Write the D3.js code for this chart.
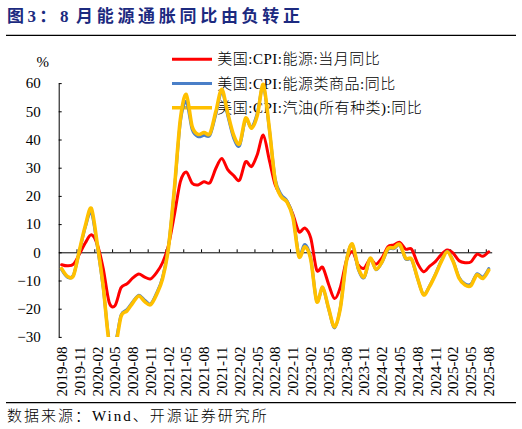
<!DOCTYPE html>
<html>
<head>
<meta charset="utf-8">
<script src="https://cdn.jsdelivr.net/npm/d3@7"></script>
<style>
  body { margin: 0; background: #fff; }
  svg text { font-family: "Liberation Serif", "Noto Sans CJK SC", serif; fill: #000; }
</style>
</head>
<body>
<div id="chart"></div>
<script>
// months, 2019-08 .. 2025-08
var months = [
  "2019-08","2019-09","2019-10","2019-11","2019-12",
  "2020-01","2020-02","2020-03","2020-04","2020-05","2020-06","2020-07","2020-08","2020-09","2020-10","2020-11","2020-12",
  "2021-01","2021-02","2021-03","2021-04","2021-05","2021-06","2021-07","2021-08","2021-09","2021-10","2021-11","2021-12",
  "2022-01","2022-02","2022-03","2022-04","2022-05","2022-06","2022-07","2022-08","2022-09","2022-10","2022-11","2022-12",
  "2023-01","2023-02","2023-03","2023-04","2023-05","2023-06","2023-07","2023-08","2023-09","2023-10","2023-11","2023-12",
  "2024-01","2024-02","2024-03","2024-04","2024-05","2024-06","2024-07","2024-08","2024-09","2024-10","2024-11","2024-12",
  "2025-01","2025-02","2025-03","2025-04","2025-05","2025-06","2025-07","2025-08"
];

var tickLabels = [
  "2019-08","2019-11","2020-02","2020-05","2020-08","2020-11","2021-02","2021-05","2021-08",
  "2021-11","2022-02","2022-05","2022-08","2022-11","2023-02","2023-05","2023-08","2023-11",
  "2024-02","2024-05","2024-08","2024-11","2025-02","2025-05","2025-08"
];

// 美国:CPI:能源:当月同比
var energy = [
  -4.4, -4.8, -4.2, -0.6, 3.4,
  6.2, 2.8, -5.7, -17.7, -18.9, -12.6, -11.2, -9.1, -7.7, -8.8, -9.4, -7.2,
  -3.7, 2.4, 13.2, 25.0, 28.5, 24.5, 23.9, 25.0, 24.7, 29.8, 33.3, 29.3,
  27.2, 25.6, 32.1, 30.4, 34.8, 41.6, 32.8, 23.9, 20.1, 17.9, 13.4, 7.3,
  8.6, 5.0, -6.3, -5.3, -11.3, -16.4, -12.3, -3.0, 0.3, -4.5, -5.6, -2.4,
  -4.2, -2.0, 2.0, 2.6, 3.5, 1.1, 1.1, -3.9, -6.9, -5.0, -3.3, -0.8,
  0.8, -0.3, -3.0, -3.7, -3.4, -0.7, -1.4, 0.2
];

// 美国:CPI:能源类商品:同比
var energyGoods = [
  -6.2, -8.9, -8.0, 0.4, 9.0,
  14.2, 2.2, -12.5, -31.0, -32.5, -22.3, -20.3, -17.5, -15.2, -17.0, -18.3, -14.5,
  -9.0, 2.0, 22.0, 46.0, 53.5, 43.5, 41.0, 41.5, 41.5, 49.0, 57.0, 48.5,
  40.5, 37.8, 47.0, 44.3, 49.5, 59.0, 43.8, 26.0, 20.5, 18.2, 12.8, -0.8,
  2.8, -2.2, -17.3, -12.6, -20.0, -26.8, -19.3, -3.0, 2.8, -6.0, -9.0, -2.3,
  -6.2, -3.6, 1.0, 1.3, 2.5, -2.4, -2.6, -9.3, -15.0, -12.0, -7.8, -3.0,
  0.4, -3.0, -8.9, -11.2, -11.3, -7.6, -8.8, -5.8
];

// 美国:CPI:汽油(所有种类):同比
var gasoline = [
  -5.8, -8.6, -8.2, 0.8, 9.5,
  15.6, 3.0, -12.0, -32.0, -33.8, -22.8, -20.8, -17.9, -15.5, -17.5, -18.6, -15.0,
  -9.5, 1.5, 22.5, 47.0, 56.0, 44.6, 41.8, 42.5, 42.1, 50.0, 57.8, 49.3,
  41.5, 38.5, 47.6, 44.0, 48.7, 59.5, 44.2, 25.4, 19.7, 17.8, 12.2, -1.5,
  2.0, -2.6, -17.5, -12.4, -19.8, -26.5, -19.6, -3.3, 3.0, -5.5, -8.7, -2.1,
  -6.0, -3.4, 1.3, 1.6, 2.8, -2.1, -2.4, -9.2, -15.1, -12.2, -8.0, -3.3,
  0.2, -3.3, -9.2, -11.6, -11.8, -8.0, -9.3, -6.3
];

var yTicks = [60, 50, 40, 30, 20, 10, 0, -10, -20, -30];
var seriesNames = ["美国:CPI:能源:当月同比", "美国:CPI:能源类商品:同比", "美国:CPI:汽油(所有种类):同比"];
var colors = ["#ff0000", "#4a7fc8", "#ffc000"];
var widths = [3, 3, 3.6];

var W = 522, H = 429,
    plot = {left: 58.7, right: 491.7, top: 83.1, bottom: 336.9};

var svg = d3.select("#chart").append("svg")
    .attr("width", W)
    .attr("height", H);

svg.append("rect").attr("width", W).attr("height", H).attr("fill", "#fff");

// title + rules
var title = svg.append("g")
    .style("font-size", "17px")
    .style("font-weight", "bold")
    .style("letter-spacing", "3.4px");
title.append("text").attr("x", 7).attr("y", 16.5).attr("dominant-baseline", "central")
    .style("fill", "#1c2a80").text("图3：");
title.append("text").attr("x", 60).attr("y", 16.5).attr("dominant-baseline", "central")
    .style("fill", "#1c2a80").text("8");
title.append("text").attr("x", 76).attr("y", 16.5).attr("dominant-baseline", "central")
    .style("fill", "#1c2a80").style("letter-spacing", "3.7px").text("月能源通胀同比由负转正");

svg.append("line").attr("x1", 6).attr("x2", 516).attr("y1", 35.3).attr("y2", 35.3)
    .attr("stroke", "#000").attr("stroke-width", 1.2);
svg.append("line").attr("x1", 6).attr("x2", 516).attr("y1", 402.7).attr("y2", 402.7)
    .attr("stroke", "#000").attr("stroke-width", 1.2);

svg.append("text")
    .attr("x", 7).attr("y", 416)
    .attr("dominant-baseline", "central")
    .style("font-size", "15px")
    .style("font-weight", "300")
    .style("letter-spacing", "2px")
    .text("数据来源：Wind、开源证券研究所");

// scales
var x = d3.scaleBand().domain(months).range([plot.left, plot.right]).padding(0);
var xb = d3.scaleLinear().domain([0, months.length]).range([plot.left, plot.right]);
var y = d3.scaleLinear().domain([-30, 60]).range([plot.bottom, plot.top]);

// y axis
var yAxis = svg.append("g")
    .attr("transform", "translate(" + plot.left + ",0)")
    .call(d3.axisLeft(y).tickValues(yTicks).tickSize(-3).tickSizeOuter(0).tickPadding(18));
yAxis.selectAll("text").style("font-size", "15px").style("font-family", "Liberation Serif");
yAxis.selectAll("line,path").attr("stroke", "#000");

svg.append("text")
    .attr("x", 49).attr("y", 62)
    .attr("text-anchor", "end")
    .attr("dominant-baseline", "central")
    .style("font-size", "15px")
    .text("%");

// x axis on zero line, ticks between groups of 3 months
var xAxis = svg.append("g")
    .attr("transform", "translate(0," + y(0) + ")")
    .call(d3.axisTop(xb).tickValues(d3.range(3, months.length, 3)).tickSize(3).tickSizeOuter(0).tickFormat(""));
xAxis.selectAll("line,path").attr("stroke", "#000");

var xLabels = svg.append("g")
    .attr("transform", "translate(0,346.5)")
    .call(d3.axisBottom(x).tickValues(tickLabels).tickSize(0));
xLabels.select(".domain").remove();
xLabels.selectAll("text")
    .attr("x", 0).attr("y", 0).attr("dy", "0.35em")
    .attr("transform", "rotate(-90)")
    .style("text-anchor", "end")
    .style("font-size", "15px")
    .style("font-family", "Liberation Serif");

// legend
var legend = svg.selectAll(".legend")
    .data(seriesNames)
    .enter().append("g")
    .attr("class", "legend")
    .attr("transform", function(d, i) { return "translate(172," + (59.3 + i * 24.2) + ")"; });

legend.append("line")
    .attr("x1", 0).attr("x2", 40)
    .attr("stroke", function(d, i) { return colors[i]; })
    .attr("stroke-width", function(d, i) { return widths[i]; });

legend.append("text")
    .attr("x", 45.3)
    .attr("dominant-baseline", "central")
    .style("font-size", "15px")
    .style("font-weight", "300")
    .style("letter-spacing", "0.5px")
    .text(function(d) { return d; });

// lines
svg.append("clipPath").attr("id", "plotclip")
  .append("rect")
    .attr("x", plot.left).attr("y", plot.top - 6)
    .attr("width", plot.right - plot.left).attr("height", plot.bottom - plot.top + 6);

var line = d3.line()
    .x(function(d, i) { return x(months[i]) + x.bandwidth() / 2; })
    .y(function(d) { return y(d); })
    .curve(d3.curveCardinal.tension(0.1));

var series = [energy, energyGoods, gasoline];
svg.append("g")
    .attr("clip-path", "url(#plotclip)")
  .selectAll("path")
    .data(series)
    .enter().append("path")
    .attr("d", line)
    .attr("fill", "none")
    .attr("stroke", function(d, i) { return colors[i]; })
    .attr("stroke-width", function(d, i) { return widths[i]; })
    .attr("stroke-linejoin", "round")
    .attr("stroke-linecap", "round");
</script>
</body>
</html>
